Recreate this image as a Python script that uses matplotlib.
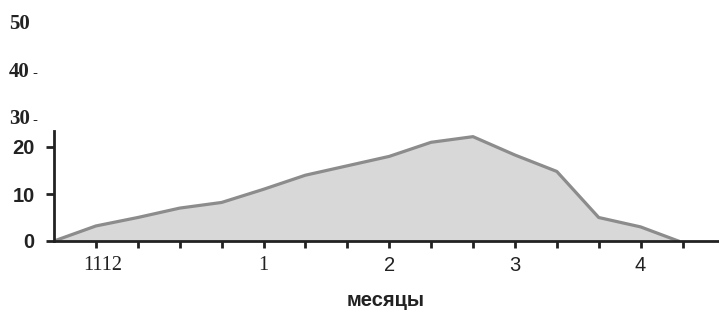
import matplotlib
matplotlib.use("Agg")
import matplotlib.pyplot as plt

# data
x_pos = [0, 1, 2, 3, 4, 5, 6, 7, 8, 9, 10, 11, 12, 13, 14, 14.9]
values = [0, 3.2, 5.0, 7.0, 8.2, 11.0, 14.0, 16.0, 18.0, 21.0, 22.2, 18.3, 14.8, 5.0, 3.0, 0]
tick_positions = list(range(1, 16))
month_labels = ["1112", "1", "2", "3", "4"]
month_label_pos = [1.17, 5, 8, 11, 14]
month_label_fonts = ["Liberation Serif", "Liberation Serif", "Liberation Sans", "Liberation Sans", "Liberation Sans"]
y_ticks = [0, 10, 20]
extra_y_labels = ["30", "40", "50"]
extra_y_pos = [26.0, 36.0, 46.2]
x_title = "месяцы"

W, H = 719, 310
fig = plt.figure(figsize=(W / 100, H / 100), dpi=100)
left = 54 / W
bottom = (H - 241) / H
top_px = 6
ax = fig.add_axes([left, bottom, 1 - left, (241 - top_px) / H])

ax.fill_between(x_pos, values, 0, color="#d8d8d8", zorder=1)
ax.plot(x_pos, values, color="#8c8c8c", lw=2.3, zorder=2, solid_joinstyle="round")

ax.set_xlim(0, (W - 54) / 41.9)
ax.set_ylim(0, (241 - top_px) / 4.7)

for s in ["top", "right"]:
    ax.spines[s].set_visible(False)
ax.spines["left"].set_bounds(0, 23.4)
ax.spines["left"].set_linewidth(2)
ax.spines["bottom"].set_linewidth(2)
ax.spines["left"].set_color("#222222")
ax.spines["bottom"].set_color("#222222")

ax.set_yticks(y_ticks)
ax.set_yticklabels([str(v) for v in y_ticks], fontsize=14.5, fontweight="bold",
                   family="Liberation Sans", color="#222222")
ax.tick_params(axis="y", direction="out", length=6, width=2, pad=8, color="#222222")

ax.set_xticks(tick_positions)
ax.set_xticklabels([""] * len(tick_positions))
ax.tick_params(axis="x", direction="out", length=5, width=2, color="#222222")

for lab, p, f in zip(month_labels, month_label_pos, month_label_fonts):
    ax.text(p, -5.2, lab, ha="center", va="center", fontsize=14.5, family=f,
            color="#222222", clip_on=False)

for lab, p in zip(extra_y_labels, extra_y_pos):
    fig.text(9 / W, (H - (241 - p * 4.7)) / H, lab, ha="left", va="center",
             fontsize=15, fontweight="bold", family="Liberation Serif", color="#222222")
    if lab != "50":
        fig.text(32 / W, (H - (241 - p * 4.7) - 5) / H, "-", ha="left", va="baseline",
                 fontsize=11, family="Liberation Sans", color="#222222")

fig.text(386 / W, (H - 301) / H, x_title, ha="center", va="center", fontsize=14.5,
         fontweight="bold", family="Liberation Sans", color="#222222")

fig.savefig("out.png", dpi=100)
